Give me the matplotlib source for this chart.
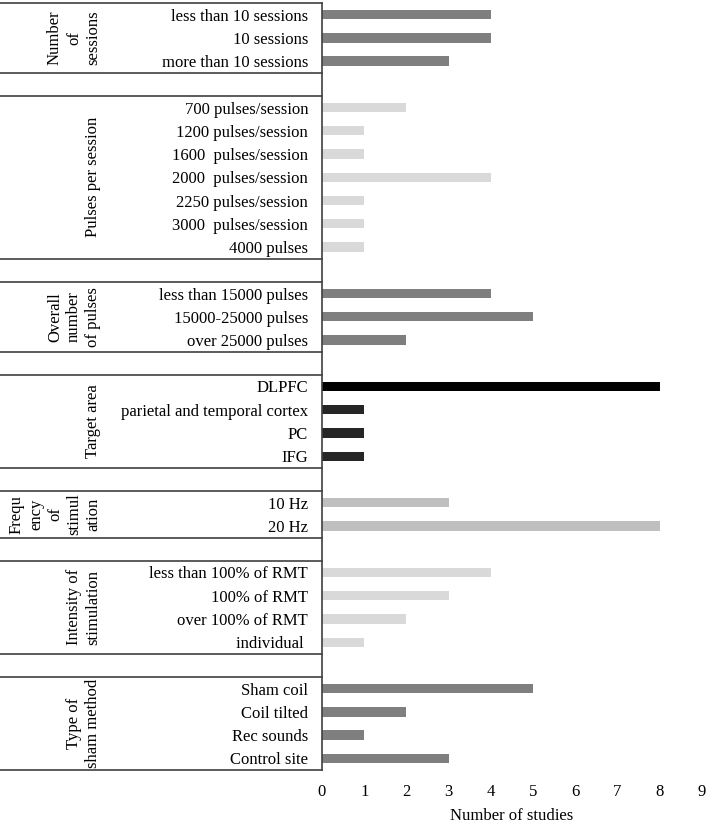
import matplotlib
matplotlib.use("Agg")
import matplotlib.pyplot as plt

plt.rcParams['font.family'] = ['Liberation Serif', 'DejaVu Serif']

group_names = [
    "Number\nof\nsessions",
    "Pulses per session",
    "Overall\nnumber\nof pulses",
    "Target area",
    "Frequ\nency\nof\nstimul\nation",
    "Intensity of\nstimulation",
    "Type of\nsham method",
]

sessions_labels = ["less than 10 sessions", "10 sessions", "more than 10 sessions"]
sessions_values = [4, 4, 3]

pulses_labels = ["700 pulses/session", "1200 pulses/session", "1600  pulses/session",
                 "2000  pulses/session", "2250 pulses/session", "3000  pulses/session",
                 "4000 pulses"]
pulses_values = [2, 1, 1, 4, 1, 1, 1]

overall_labels = ["less than 15000 pulses", "15000-25000 pulses", "over 25000 pulses"]
overall_values = [4, 5, 2]

target_labels = ["DLPFC", "parietal and temporal cortex", "PC", "IFG"]
target_values = [8, 1, 1, 1]

freq_labels = ["10 Hz", "20 Hz"]
freq_values = [3, 8]

intensity_labels = ["less than 100% of RMT", "100% of RMT", "over 100% of RMT", "individual "]
intensity_values = [4, 3, 2, 1]

sham_labels = ["Sham coil", "Coil tilted", "Rec sounds", "Control site"]
sham_values = [5, 2, 1, 3]

group_labels = [sessions_labels, pulses_labels, overall_labels, target_labels,
                freq_labels, intensity_labels, sham_labels]
group_values = [sessions_values, pulses_values, overall_values, target_values,
                freq_values, intensity_values, sham_values]
group_colors = [
    ["#7f7f7f"] * 3,
    ["#d9d9d9"] * 7,
    ["#7f7f7f"] * 3,
    ["#000000", "#262626", "#262626", "#262626"],
    ["#bfbfbf"] * 2,
    ["#d9d9d9"] * 4,
    ["#7f7f7f"] * 4,
]

x_ticks = list(range(0, 10))

fig = plt.figure(figsize=(7.08, 8.27), dpi=100)
left, right = 322 / 708, 702 / 708
top, bottom = 1 - 3 / 827, 1 - 770 / 827
ax = fig.add_axes([left, bottom, right - left, top - bottom])

ypos = []
ylabels = []
bars_y, bars_v, bars_c = [], [], []
separators = [-0.5]
group_centers = []
row = 0
for gi, (labs, vals, cols) in enumerate(zip(group_labels, group_values, group_colors)):
    start = row
    for lab, v, c in zip(labs, vals, cols):
        ypos.append(row)
        ylabels.append(lab)
        bars_y.append(row)
        bars_v.append(v)
        bars_c.append(c)
        row += 1
    group_centers.append((start + row - 1) / 2)
    separators.append(row - 0.5)
    if gi < len(group_labels) - 1:
        row += 1
        separators.append(row - 0.5)
nrows = row

FS = 12
ax.barh(bars_y, bars_v, height=0.4, color=bars_c)
ax.set_ylim(nrows - 0.5, -0.5)
ax.set_xlim(0, 9)
ax.set_yticks(ypos)
ax.set_yticklabels(ylabels, fontsize=FS)
ax.tick_params(axis='y', length=0, pad=10)
ax.set_xticks(x_ticks)
ax.set_xticklabels([str(t) for t in x_ticks], fontsize=FS)
ax.tick_params(axis='x', length=0, pad=10)
ax.set_xlabel("Number of studies", fontsize=FS, labelpad=6)

for s in ['top', 'right', 'bottom']:
    ax.spines[s].set_visible(False)
ax.spines['left'].set_color('#404040')
ax.spines['left'].set_linewidth(1.2)

ax_w = right - left
xstart = -left / ax_w
for s in separators:
    ax.plot([xstart, 0], [s, s], color='#404040', lw=1.2, clip_on=False,
            transform=ax.get_yaxis_transform())

label_right = 101 / 708
for name, c in zip(group_names, group_centers):
    ax.text(label_right, c, name, rotation=90, ha='right', va='center',
            multialignment='center', fontsize=FS, linespacing=1.25,
            transform=matplotlib.transforms.blended_transform_factory(fig.transFigure, ax.transData))

fig.savefig("out.png", dpi=100)
